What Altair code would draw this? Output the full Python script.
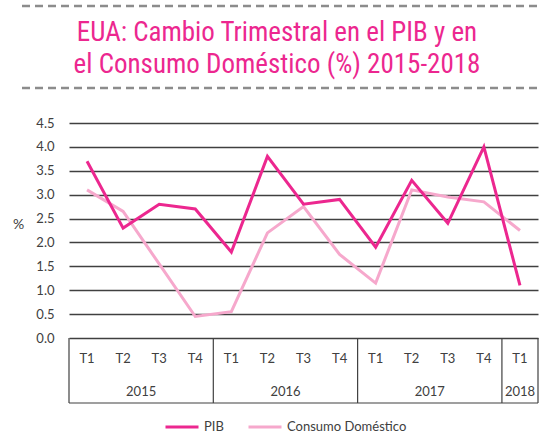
import altair as alt
import pandas as pd

# ---- data ----
quarters = ["T1", "T2", "T3", "T4", "T1", "T2", "T3", "T4", "T1", "T2", "T3", "T4", "T1"]
years = ["2015"] * 4 + ["2016"] * 4 + ["2017"] * 4 + ["2018"]
pib = [3.7, 2.3, 2.8, 2.7, 1.8, 3.8, 2.8, 2.9, 1.9, 3.3, 2.4, 4.0, 1.1]
consumo = [3.1, 2.65, 1.55, 0.45, 0.55, 2.2, 2.75, 1.75, 1.15, 3.1, 2.95, 2.85, 2.25]
series_names = ["PIB", "Consumo Doméstico"]
y_ticks = [0.0, 0.5, 1.0, 1.5, 2.0, 2.5, 3.0, 3.5, 4.0, 4.5]
title_lines = ["EUA: Cambio Trimestral en el PIB y en", "el Consumo Doméstico (%) 2015-2018"]

PINK = "#EC278F"
LIGHT = "#F6A8CC"
GRAY = "#404040"
FONT = "Lato"
TFONT = "Noto Sans Condensed, Noto Sans ExtraCondensed, Roboto Condensed, Lato"

n = len(quarters)
idx = list(range(n))
long = pd.DataFrame({
    "idx": idx * 2,
    "quarter": quarters * 2,
    "year": years * 2,
    "value": pib + consumo,
    "serie": [series_names[0]] * n + [series_names[1]] * n,
})
cats = pd.DataFrame({"idx": idx, "quarter": quarters, "year": years})
year_pos = cats.groupby("year", as_index=False)["idx"].mean()
edges = [-0.5] + [i - 0.5 for i in range(1, n) if years[i] != years[i - 1]] + [n - 0.5]
edges_df = pd.DataFrame({"edge": edges})
one = pd.DataFrame({"k": [0]})

W, H = 469, 215
BOX_BOTTOM = 280

xscale = alt.Scale(domain=[-0.5, n - 0.5], nice=False, zero=False)
yscale = alt.Scale(domain=[0, 4.5], nice=False)

color = alt.Color(
    "serie:N",
    scale=alt.Scale(domain=series_names, range=[PINK, LIGHT]),
    legend=alt.Legend(
        title=None, orient="none", legendX=95, legendY=286, direction="horizontal",
        symbolType="stroke", symbolSize=1089, symbolStrokeWidth=3,
        labelFont=FONT, labelFontSize=13, labelColor=GRAY, labelOffset=4,
        columnPadding=18, padding=0,
    ),
)

yaxis = alt.Axis(
    values=y_ticks, format=".1f", labelFont=FONT, labelFontSize=13, labelColor=GRAY,
    labelPadding=15, labelOverlap=False, ticks=False, domain=False, grid=True,
    gridColor=GRAY, gridWidth=1.4,
    title="%", titleAngle=0, titleX=-51, titleY=101, titleFont=FONT, titleFontSize=14,
    titleFontWeight="normal", titleColor=GRAY, titleAlign="center", titleBaseline="middle",
)

base = alt.Chart(long)
line_cons = base.transform_filter(alt.datum.serie == series_names[1]).mark_line(strokeWidth=3).encode(
    x=alt.X("idx:Q", scale=xscale, axis=None),
    y=alt.Y("value:Q", scale=yscale, axis=yaxis),
    color=color,
)
line_pib = base.transform_filter(alt.datum.serie == series_names[0]).mark_line(strokeWidth=3).encode(
    x=alt.X("idx:Q", scale=xscale, axis=None),
    y=alt.Y("value:Q", scale=yscale, axis=yaxis),
    color=color,
)

vrules = alt.Chart(edges_df).mark_rule(color=GRAY, strokeWidth=1.2).encode(
    x=alt.X("edge:Q", scale=xscale, axis=None),
    y=alt.value(H), y2=alt.value(BOX_BOTTOM),
)
bottom = alt.Chart(one).mark_rule(color=GRAY, strokeWidth=1.2).encode(
    x=alt.value(0), x2=alt.value(W), y=alt.value(BOX_BOTTOM),
)
qlabels = alt.Chart(cats).mark_text(font=FONT, fontSize=13, color=GRAY, baseline="middle").encode(
    x=alt.X("idx:Q", scale=xscale, axis=None), y=alt.value(236), text="quarter:N",
)
ylabels = alt.Chart(year_pos).mark_text(font=FONT, fontSize=13, color=GRAY, baseline="middle").encode(
    x=alt.X("idx:Q", scale=xscale, axis=None), y=alt.value(268.5), text="year:N",
)

t1 = alt.Chart(one).mark_text(font=TFONT, fontSize=27, color=PINK, baseline="alphabetic").encode(
    x=alt.value(208), y=alt.value(-82), text=alt.value(title_lines[0]),
)
t2 = alt.Chart(one).mark_text(font=TFONT, fontSize=27, color=PINK, baseline="alphabetic").encode(
    x=alt.value(208), y=alt.value(-50), text=alt.value(title_lines[1]),
)
dash1 = alt.Chart(one).mark_rule(color="#8C8C8C", strokeWidth=2.5, strokeDash=[8, 5]).encode(
    x=alt.value(-47), x2=alt.value(W + 2), y=alt.value(-117),
)
dash2 = alt.Chart(one).mark_rule(color="#8C8C8C", strokeWidth=2.5, strokeDash=[8, 5]).encode(
    x=alt.value(-47), x2=alt.value(W + 2), y=alt.value(-35),
)

chart = alt.layer(
    line_cons, line_pib, vrules, bottom, qlabels, ylabels, t1, t2, dash1, dash2
).properties(
    width=W, height=H,
    autosize="none",
    padding={"left": 69, "top": 123, "right": 2, "bottom": 96},
    background="white",
).configure_view(stroke=None)

chart.save("out.html", embed_options={"renderer": "svg", "actions": False})
